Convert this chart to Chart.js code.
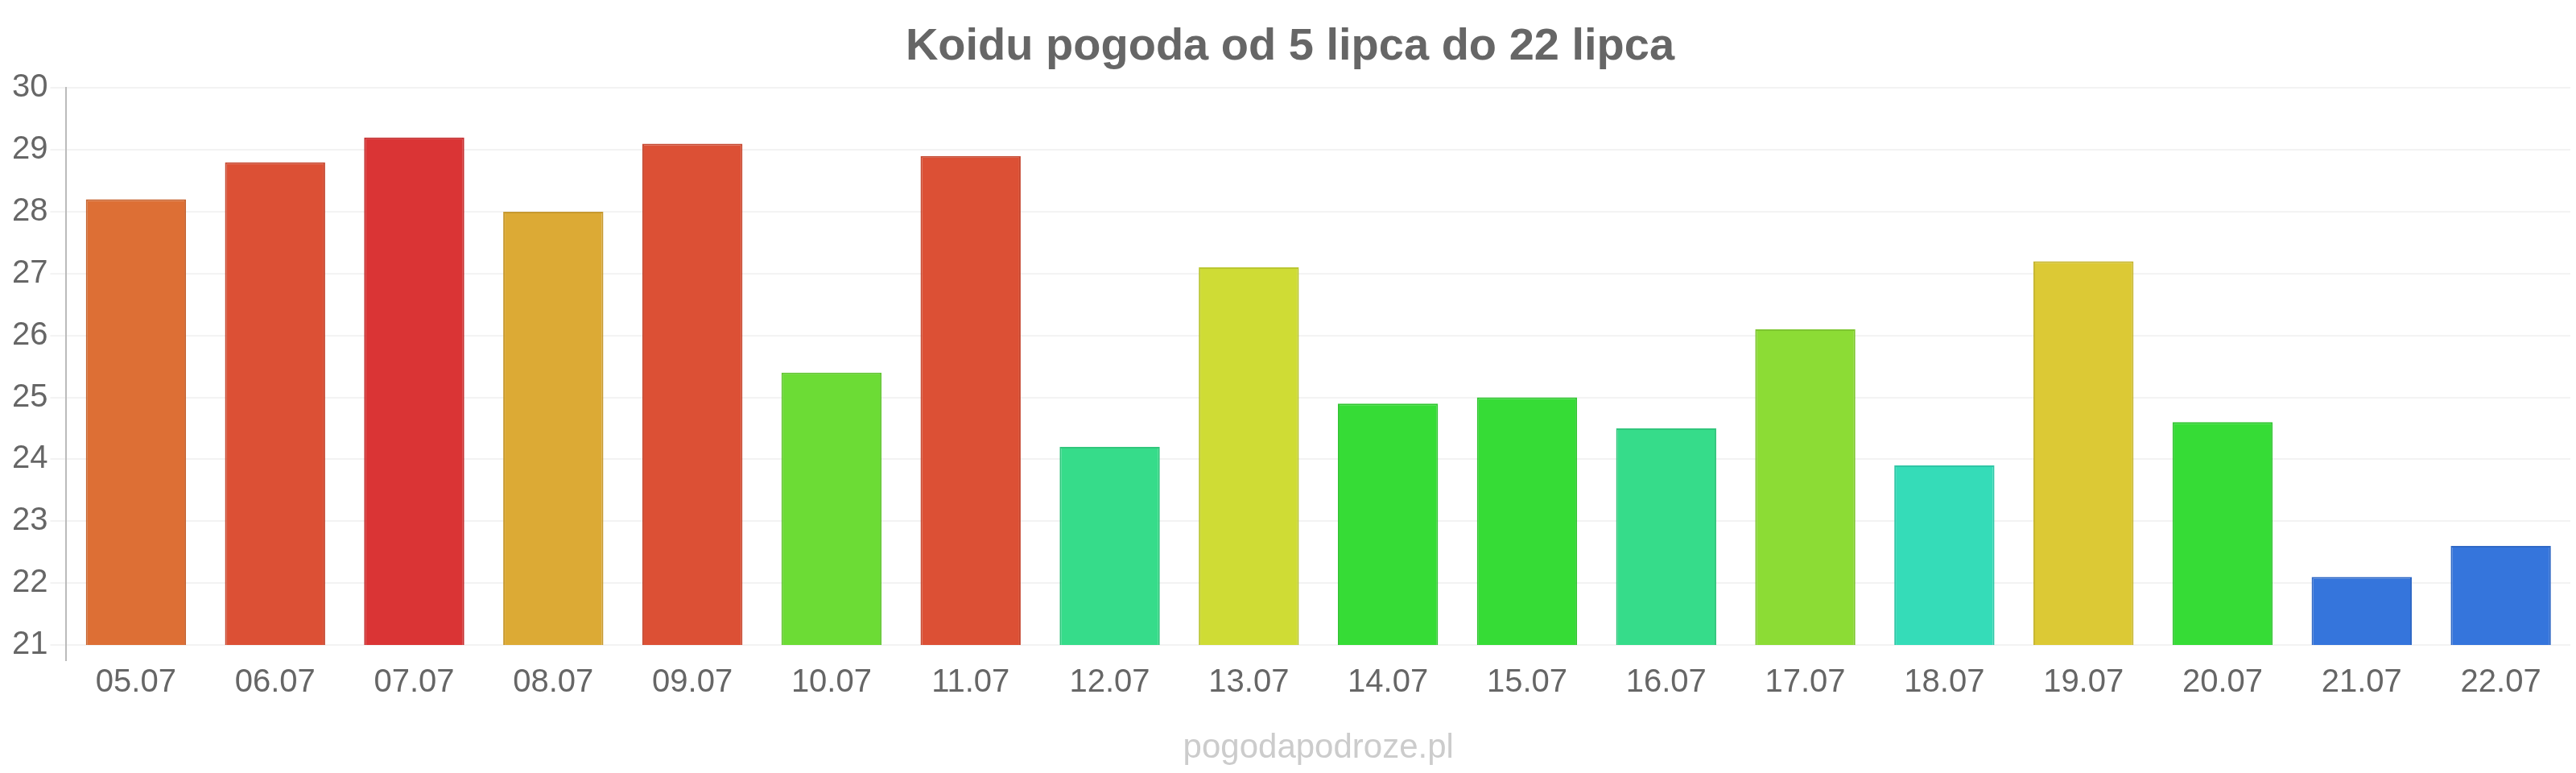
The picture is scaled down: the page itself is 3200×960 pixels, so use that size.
<!DOCTYPE html>
<html lang="pl">
<head>
<meta charset="utf-8">
<title>Koidu pogoda od 5 lipca do 22 lipca</title>
<script src="https://cdn.jsdelivr.net/npm/chart.js@4.4.1/dist/chart.umd.min.js"></script>
<style>
  html, body { margin: 0; padding: 0; background: #fff; }
  #wrap { width: 3200px; height: 960px; }
</style>
</head>
<body>
<div id="wrap"><canvas id="chartWeather"></canvas></div>
<script>
// Dane wykresu
const days = ['05.07', '06.07', '07.07', '08.07', '09.07', '10.07', '11.07', '12.07', '13.07',
  '14.07', '15.07', '16.07', '17.07', '18.07', '19.07', '20.07', '21.07', '22.07'];
const temps = [28.2, 28.8, 29.2, 28.0, 29.1, 25.4, 28.9, 24.2, 27.1,
  24.9, 25.0, 24.5, 26.1, 23.9, 27.2, 24.6, 22.1, 22.6];
const barColors = ['#dd6f35', '#dc5035', '#da3435', '#dcaa35', '#dc5035', '#6cdc35', '#dc5035', '#36dc8a', '#cfdc35',
  '#36dc36', '#36dc36', '#36dc8a', '#8cdc35', '#35dcb8', '#dcc935', '#36dc36', '#3575dc', '#3575dc'];
const yTicks = [21, 22, 23, 24, 25, 26, 27, 28, 29, 30];

// przyciemnienie koloru na obramowanie
function darken(hex, f) {
  const n = parseInt(hex.slice(1), 16);
  const r = Math.round(((n >> 16) & 255) * f), g = Math.round(((n >> 8) & 255) * f), b = Math.round((n & 255) * f);
  return 'rgb(' + r + ',' + g + ',' + b + ')';
}

const font = "'Liberation Sans', Arial, sans-serif";

// podpis strony pod wykresem, wyśrodkowany względem obszaru wykresu
const footerText = {
  id: 'footer-text',
  afterDraw: (chart) => {
    const { ctx, chartArea: { left, right } } = chart;
    ctx.save();
    ctx.fillStyle = '#ccc';
    ctx.font = '42px ' + font;
    ctx.textAlign = 'center';
    ctx.textBaseline = 'alphabetic';
    ctx.fillText('pogodapodroze.pl', (left + right) / 2, 941);
    ctx.restore();
  }
};

new Chart(document.getElementById('chartWeather'), {
  type: 'bar',
  data: {
    labels: days,
    datasets: [{
      data: temps,
      backgroundColor: barColors,
      borderColor: barColors.map(c => darken(c, 0.9)),
      borderWidth: 2,
      borderSkipped: 'bottom'
    }]
  },
  options: {
    responsive: true,
    maintainAspectRatio: false,
    animation: false,
    layout: { padding: { left: 12, right: 7, top: 0, bottom: 85 } },
    plugins: {
      legend: { display: false },
      tooltip: { enabled: false },
      title: {
        display: true,
        text: 'Koidu pogoda od 5 lipca do 22 lipca',
        color: '#666',
        font: { family: font, size: 56, weight: 'bold' },
        padding: { top: 25, bottom: 17 }
      }
    },
    scales: {
      x: {
        grid: {
          drawOnChartArea: false,
          tickLength: 20,
          lineWidth: 2,
          color: ctx => ctx.index === 0 ? '#bbb' : 'rgba(0,0,0,0)'
        },
        border: { display: false },
        ticks: { color: '#666', font: { family: font, size: 40 }, padding: 3 }
      },
      y: {
        min: 21,
        max: 30,
        afterBuildTicks: scale => { scale.ticks = yTicks.map(v => ({ value: v })); },
        grid: { color: '#f3f3f3', lineWidth: 2, tickLength: 20 },
        border: { display: true, color: '#bbb', width: 2 },
        ticks: { color: '#666', font: { family: font, size: 40 }, padding: 3 }
      }
    }
  },
  plugins: [footerText]
});
</script>
</body>
</html>
